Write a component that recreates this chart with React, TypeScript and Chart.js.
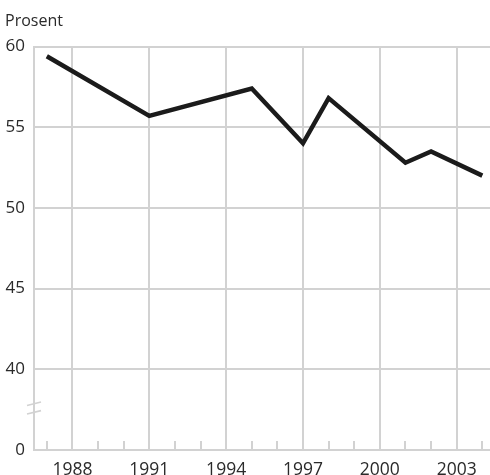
import React, { useEffect, useRef } from "react";
import { Chart, registerables } from "chart.js";

Chart.register(...registerables);

const years = [1987, 1991, 1995, 1997, 1998, 2001, 2002, 2004];
const values = [59.4, 55.7, 57.4, 54.0, 56.8, 52.8, 53.5, 52.0];
const majorYears = [1988, 1991, 1994, 1997, 2000, 2003];
const yTicks = [35, 40, 45, 50, 55, 60];
const yLabelFor35 = "0";
const unitLabel = "Prosent";

const GRID = "#d2d2d2";
const TEXT = "#2a2a2a";
const FONT = "'Open Sans', 'Noto Sans', sans-serif";

const decorPlugin = {
  id: "decor",
  afterDraw(chart: any) {
    const { ctx, chartArea, scales } = chart;
    const x = scales.x;
    const y = scales.y;
    ctx.save();
    ctx.strokeStyle = GRID;
    ctx.lineWidth = 2;
    for (let yr = Math.ceil(x.min); yr <= Math.floor(x.max); yr++) {
      if (majorYears.includes(yr)) continue;
      const px = Math.round(x.getPixelForValue(yr));
      ctx.beginPath();
      ctx.moveTo(px, chartArea.bottom);
      ctx.lineTo(px, chartArea.bottom - 9);
      ctx.stroke();
    }
    const cx = chartArea.left;
    const cy = y.getPixelForValue(37.6);
    ctx.lineWidth = 1.6;
    for (const off of [-4.3, 4.3]) {
      ctx.beginPath();
      ctx.moveTo(cx - 7, cy + off + 1.7);
      ctx.lineTo(cx + 7, cy + off - 1.7);
      ctx.stroke();
    }
    ctx.fillStyle = TEXT;
    ctx.font = `16px ${FONT}`;
    ctx.textAlign = "left";
    ctx.textBaseline = "middle";
    ctx.fillText(unitLabel, 5, 21);
    ctx.restore();
  },
};

export default function App() {
  const ref = useRef<HTMLCanvasElement | null>(null);
  useEffect(() => {
    if (!ref.current) return;
    const chart = new Chart(ref.current, {
      type: "line",
      data: {
        datasets: [
          {
            data: years.map((yr, i) => ({ x: yr, y: values[i] })),
            borderColor: "#1b1b1b",
            borderWidth: 4.5,
            borderJoinStyle: "miter",
            borderCapStyle: "butt",
            pointRadius: 0,
            tension: 0,
            fill: false,
          },
        ],
      },
      options: {
        animation: false,
        responsive: false,
        maintainAspectRatio: false,
        layout: { padding: { top: 46.5, right: 0, left: 0, bottom: 0 } },
        plugins: { legend: { display: false }, tooltip: { enabled: false }, title: { display: false } },
        scales: {
          x: {
            type: "linear",
            min: 1986.5,
            max: 2004.3,
            afterFit: (s: any) => {
              s.height = 25;
            },
            afterBuildTicks: (s: any) => {
              s.ticks = majorYears.map((v) => ({ value: v }));
            },
            grid: { color: GRID, lineWidth: 2, drawTicks: false },
            border: { display: true, color: GRID, width: 2 },
            ticks: {
              autoSkip: false,
              maxRotation: 0,
              padding: 10,
              color: TEXT,
              font: { family: FONT, size: 17.5 },
              callback: (v: any) => String(v),
            },
          },
          y: {
            min: 35,
            max: 60,
            afterFit: (s: any) => {
              s.width = 34;
            },
            afterBuildTicks: (s: any) => {
              s.ticks = yTicks.map((v) => ({ value: v }));
            },
            grid: {
              color: (c: any) => (c.tick && c.tick.value === 35 ? "rgba(0,0,0,0)" : GRID),
              lineWidth: 2,
              drawTicks: false,
            },
            border: { display: true, color: GRID, width: 2 },
            ticks: {
              padding: 9,
              color: TEXT,
              font: { family: FONT, size: 17 },
              callback: (v: any) => (v === 35 ? yLabelFor35 : String(v)),
            },
          },
        },
      },
      plugins: [decorPlugin],
    });
    return () => chart.destroy();
  }, []);
  return (
    <div style={{ position: "absolute", left: 0, top: 0, width: 490, height: 475, background: "#fff" }}>
      <canvas ref={ref} width={490} height={475} style={{ width: 490, height: 475 }} />
    </div>
  );
}
